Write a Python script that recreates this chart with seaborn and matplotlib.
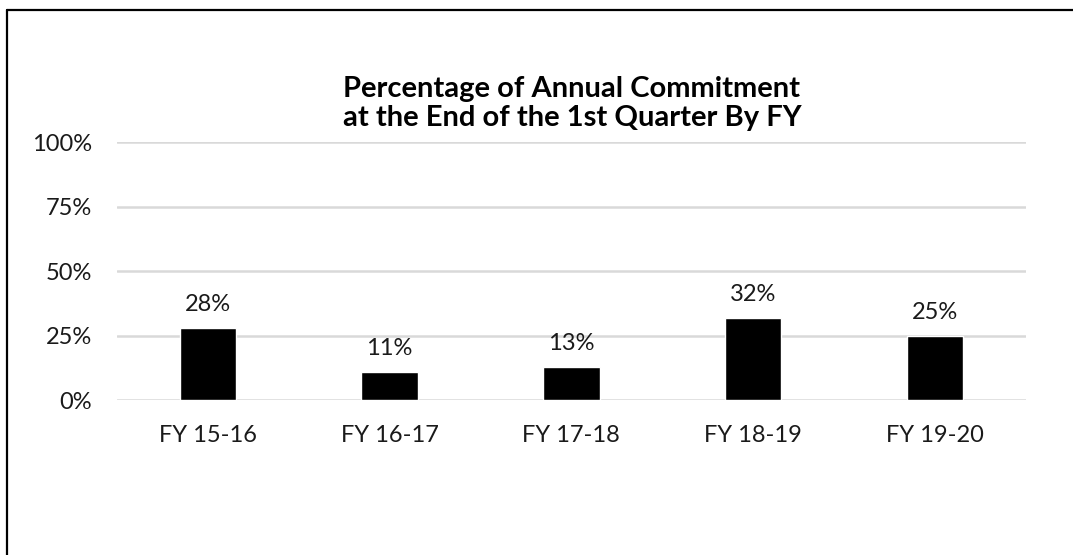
import matplotlib
matplotlib.use('Agg')
import matplotlib.pyplot as plt
from matplotlib.lines import Line2D
import seaborn as sns
import pandas as pd

# values
fiscal_years = ['FY 15-16', 'FY 16-17', 'FY 17-18', 'FY 18-19', 'FY 19-20']
pct_committed = [28, 11, 13, 32, 25]
y_ticks = [0, 25, 50, 75, 100]

df = pd.DataFrame({'fy': fiscal_years, 'pct': pct_committed})

sns.set_style('white')
plt.rcParams['font.family'] = ['Lato', 'DejaVu Sans']

fig = plt.figure(figsize=(10.73, 5.55), dpi=100)
ax = fig.add_axes([0.109, 0.279, 0.847, 0.465])

sns.barplot(data=df, x='fy', y='pct', order=fiscal_years, color='black',
            width=0.31, saturation=1, ax=ax)

ax.bar_label(ax.containers[0], labels=[f'{v}%' for v in pct_committed],
             padding=9, fontsize=17, color='#1a1a1a')

ax.set_ylim(0, 100)
ax.set_yticks(y_ticks)
ax.set_yticklabels([f'{t}%' for t in y_ticks])
ax.yaxis.grid(True, color='#D9D9D9', linewidth=1.8)
ax.set_axisbelow(True)
for s in ax.spines.values():
    s.set_visible(False)
ax.tick_params(axis='both', length=0, labelsize=17, colors='#1a1a1a')
ax.tick_params(axis='x', pad=18)
ax.tick_params(axis='y', pad=18)
ax.set_xlabel('')
ax.set_ylabel('')

fig.text(0.533, 0.813, 'Percentage of Annual Commitment\nat the End of the 1st Quarter By FY',
         ha='center', va='center', fontsize=21, fontweight='bold',
         linespacing=1.15, color='black')

# chart frame (only top and left edges visible in the reference)
fig.add_artist(Line2D([7 / 1073, 7 / 1073], [0, 1 - 10 / 555], transform=fig.transFigure,
                      color='black', linewidth=1.6))
fig.add_artist(Line2D([7 / 1073, 1], [1 - 10 / 555, 1 - 10 / 555], transform=fig.transFigure,
                      color='black', linewidth=1.6))

fig.savefig('out.png', dpi=100)
